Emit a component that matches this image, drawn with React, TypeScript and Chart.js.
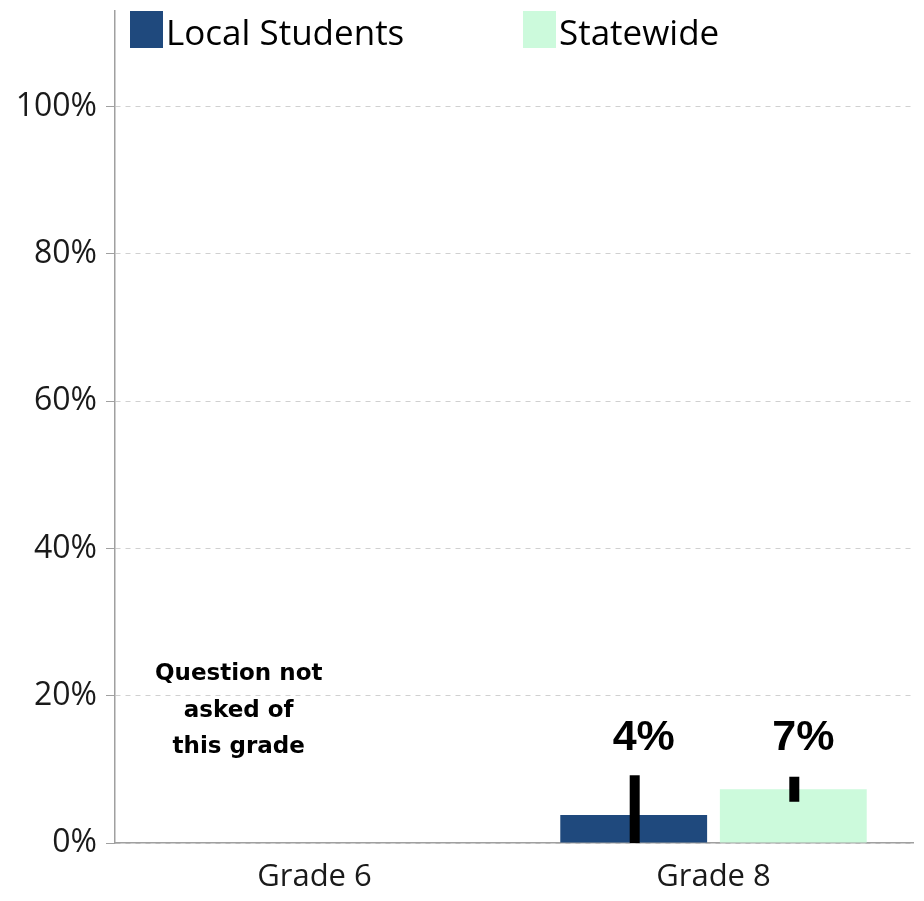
import React, { useEffect, useRef } from "react";
import { Chart, registerables } from "chart.js";

Chart.register(...registerables);

const categories = ["Grade 6", "Grade 8"];
const seriesNames = ["Local Students", "Statewide"];
const seriesColors = ["#1F497D", "#CCFADC"];
const localValues = [null, 3.8];
const stateValues = [null, 7.3];
const localErrLow = [null, 0];
const localErrHigh = [null, 9.2];
const stateErrLow = [null, 5.6];
const stateErrHigh = [null, 9.0];
const yTicks = [0, 20, 40, 60, 80, 100];
const notAskedLines = ["Question not", "asked of", "this grade"];

const errLows = [localErrLow, stateErrLow];
const errHighs = [localErrHigh, stateErrHigh];

const TICK_FONT = "'Open Sans', sans-serif";

const overlayPlugin = {
  id: "overlay",
  afterDatasetsDraw(chart: any) {
    const ctx = chart.ctx;
    const y = chart.scales.y;
    const ca = chart.chartArea;
    ctx.save();
    // error bars
    chart.data.datasets.forEach((ds: any, di: number) => {
      const meta = chart.getDatasetMeta(di);
      meta.data.forEach((el: any, i: number) => {
        const lo = errLows[di][i];
        const hi = errHighs[di][i];
        if (lo == null || hi == null) return;
        ctx.beginPath();
        ctx.strokeStyle = "#000";
        ctx.lineWidth = 10;
        ctx.lineCap = "butt";
        ctx.moveTo(el.x + 1, y.getPixelForValue(lo));
        ctx.lineTo(el.x + 1, y.getPixelForValue(hi));
        ctx.stroke();
      });
    });
    // value labels
    chart.data.labels.forEach((_: any, i: number) => {
      const highs = errHighs.map((a) => a[i]).filter((v) => v != null) as number[];
      if (!highs.length) {
        const el = chart.getDatasetMeta(0).data[i];
        const x = el.x;
        const base = y.getPixelForValue(20);
        ctx.fillStyle = "#000";
        ctx.font = "bold 23px 'DejaVu Sans', sans-serif";
        ctx.textAlign = "center";
        ctx.textBaseline = "alphabetic";
        const offs = [-16, 21, 57];
        notAskedLines.forEach((t, k) => ctx.fillText(t, x + 4, base + offs[k]));
        return;
      }
      const top = y.getPixelForValue(Math.max(...highs)) - 25;
      chart.data.datasets.forEach((ds: any, di: number) => {
        const v = ds.data[i];
        if (v == null) return;
        const el = chart.getDatasetMeta(di).data[i];
        ctx.fillStyle = "#000";
        ctx.font = "bold 43px 'Liberation Sans', Arial, sans-serif";
        ctx.textAlign = "center";
        ctx.textBaseline = "alphabetic";
        ctx.fillText(Math.round(v) + "%", el.x + 10, top);
      });
    });
    // legend inside chart area
    const legendX = [15, 408];
    chart.data.datasets.forEach((ds: any, di: number) => {
      const x = ca.left + legendX[di];
      const t = ca.top;
      ctx.fillStyle = ds.backgroundColor;
      ctx.fillRect(x, t, 33, 37);
      ctx.fillStyle = "#000";
      ctx.font = "35px " + TICK_FONT;
      ctx.textAlign = "left";
      ctx.textBaseline = "alphabetic";
      ctx.fillText(ds.label, x + 36, t + 34);
    });
    ctx.restore();
  },
};

export default function App() {
  const ref = useRef<HTMLCanvasElement>(null);
  useEffect(() => {
    if (!ref.current) return;
    const chart = new Chart(ref.current, {
      type: "bar",
      data: {
        labels: categories,
        datasets: [
          {
            label: seriesNames[0],
            data: localValues as any,
            backgroundColor: seriesColors[0],
            categoryPercentage: 0.8,
            barPercentage: 0.92,
          },
          {
            label: seriesNames[1],
            data: stateValues as any,
            backgroundColor: seriesColors[1],
            categoryPercentage: 0.8,
            barPercentage: 0.92,
          },
        ],
      },
      options: {
        animation: false,
        responsive: false,
        maintainAspectRatio: false,
        layout: { padding: { top: 3, right: 3, left: 0, bottom: 0 } },
        plugins: {
          legend: { display: false },
          tooltip: { enabled: false },
        },
        scales: {
          x: {
            grid: { display: false, drawTicks: false },
            border: { display: true, color: "#A0A0A0", width: 1.5 },
            ticks: {
              color: "#1a1a1a",
              font: { family: TICK_FONT, size: 31 },
              padding: 16,
            },
            afterFit(scale: any) {
              scale.height = 50;
              scale.paddingLeft = 0;
              scale.paddingRight = 0;
            },
          },
          y: {
            min: 0,
            max: 113,
            afterBuildTicks(scale: any) {
              scale.ticks = yTicks.map((v) => ({ value: v }));
            },
            grid: {
              color: "#D0D0D0",
              lineWidth: 1,
              tickLength: 9,
              tickColor: "#A0A0A0",
              tickBorderDash: [],
            },
            border: { display: true, color: "#A0A0A0", width: 1.5, dash: [5, 5] },
            ticks: {
              color: "#1a1a1a",
              font: { family: TICK_FONT, size: 32 },
              padding: 9,
              callback: (v: any) => v + "%",
            },
            afterFit(scale: any) {
              scale.width = 107;
              scale.paddingTop = 0;
              scale.paddingBottom = 0;
            },
          },
        },
      },
      plugins: [overlayPlugin],
    });
    return () => chart.destroy();
  }, []);
  return (
    <div style={{ width: 908, height: 885 }}>
      <canvas ref={ref} width={908} height={885} style={{ display: "block" }} />
    </div>
  );
}
